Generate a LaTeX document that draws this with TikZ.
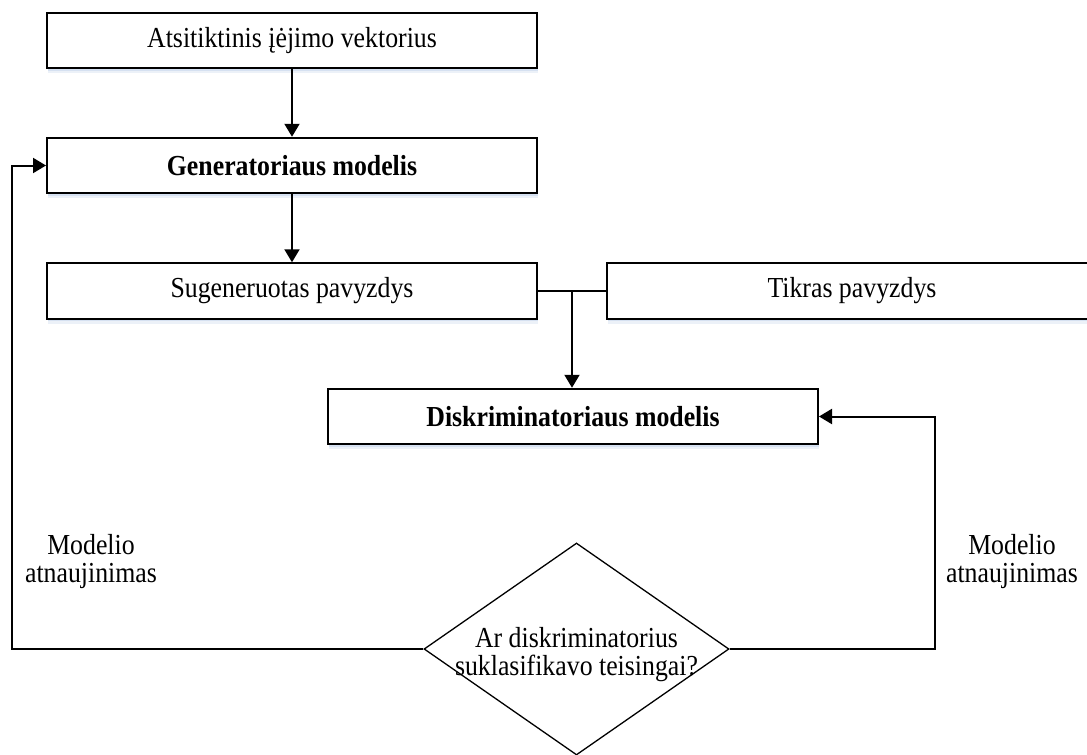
\documentclass[tikz,border=0pt]{standalone}
\usepackage{fontspec}
\setmainfont{Liberation Serif}[FakeStretch=0.89]
\usetikzlibrary{arrows.meta,shapes.geometric,shadows,calc}
\definecolor{shadowblue}{RGB}{200,214,236}

\begin{document}
\begin{tikzpicture}[x=1pt,y=-1pt,
  every node/.style={font=\fontsize{29}{28}\selectfont},
  box/.style={draw, line width=2pt, fill=white, minimum width=490pt,
    minimum height=55.5pt, inner sep=0pt,
    drop shadow={shadow xshift=1pt, shadow yshift=-5pt, fill=shadowblue, opacity=0.35},
    drop shadow={shadow xshift=1pt, shadow yshift=-2.5pt, fill=shadowblue, opacity=0.6}},
  boldbox/.style={box, font=\fontsize{29}{28}\selectfont\bfseries},
  decision/.style={diamond, draw, line width=1.3pt, minimum width=305pt,
    minimum height=212pt, inner sep=0pt},
  txt/.style={align=center, inner sep=0pt},
  conn/.style={line width=2pt},
  arrow/.style={conn, -{Triangle[length=13pt,width=15pt]}}]

\useasboundingbox (0,0) rectangle (1087,755);
\clip (0,0) rectangle (1087,755);

% process boxes
\node[box]     (noise)  at (292,40.5)  {Atsitiktinis įėjimo vektorius};
\node[boldbox] (gen)    at (292,165.5) {Generatoriaus modelis};
\node[box]     (fake)   at (292,291)   {Sugeneruotas pavyzdys};
\node[box]     (real)   at (852,291)   {Tikras pavyzdys};
\node[boldbox] (disc)   at (573,416.5) {Diskriminatoriaus modelis};

% decision
\node[decision] (dec) at (576.5,649) {};
\node[txt] (dectext) at (576.5,655) {Ar diskriminatorius\\suklasifikavo teisingai?};

% feedback labels
\node[txt] (lupd) at (91,562)   {Modelio\\atnaujinimas};
\node[txt] (rupd) at (1012,562) {Modelio\\atnaujinimas};

% main flow
\draw[arrow] (noise.south) -- (gen.north);
\draw[arrow] (gen.south) -- (fake.north);
\draw[conn] (fake.east) -- (real.west);
\coordinate (join) at ($(fake.east)!0.5!(real.west)$);
\draw[arrow] (join) -- (join |- disc.north);

% feedback loops
\coordinate (lcorner) at (12,649);
\coordinate (rcorner) at (935,649);
\draw[arrow] (dec.west) -- (lcorner) |- (gen.west);
\draw[arrow] (dec.east) -- (rcorner) |- (disc.east);
\end{tikzpicture}
\end{document}
